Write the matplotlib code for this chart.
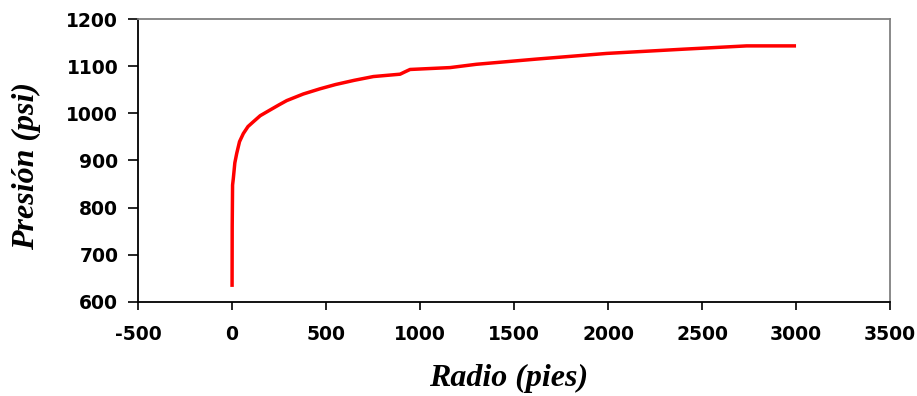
import matplotlib
matplotlib.use("Agg")
import matplotlib.pyplot as plt

# Pressure profile vs. radial distance from the wellbore
radio = [0.3, 1, 3, 7, 15, 25, 40, 60, 85, 113, 150, 202, 250, 291, 379,
         468, 550, 650, 752, 894, 920, 947, 1160, 1300, 1619, 1992, 2400,
         2737, 3000]
presion = [632, 760, 848, 862, 895, 915, 940, 957, 972, 982, 995, 1007,
           1018, 1027, 1041, 1052, 1061, 1070, 1078, 1083, 1088, 1093,
           1097, 1104, 1115, 1127, 1136, 1143, 1143]

x_ticks = [-500, 0, 500, 1000, 1500, 2000, 2500, 3000, 3500]
y_ticks = [600, 700, 800, 900, 1000, 1100, 1200]

fig = plt.figure(figsize=(9.17, 3.96), dpi=100)
ax = fig.add_axes([0.1505, 0.2374, 0.8201, 0.7146])

ax.plot(radio, presion, color="#ff0000", linewidth=2.5,
        solid_capstyle="butt", solid_joinstyle="round")

ax.set_xlim(-500, 3500)
ax.set_ylim(600, 1200)
ax.set_xticks(x_ticks)
ax.set_yticks(y_ticks)

ax.set_xticklabels([str(v) for v in x_ticks], family="DejaVu Sans",
                   weight="bold", size=13.5)
ax.set_yticklabels([str(v) for v in y_ticks], family="DejaVu Sans",
                   weight="bold", size=13.5)

ax.tick_params(axis="both", direction="out", width=1.2, color="black")
ax.tick_params(axis="x", length=5.8, pad=11)
ax.tick_params(axis="y", length=7.2, pad=7)

for side in ("left", "bottom"):
    ax.spines[side].set_color("black")
    ax.spines[side].set_linewidth(1.3)
for side in ("top", "right"):
    ax.spines[side].set_color("#808080")
    ax.spines[side].set_linewidth(1.3)

label_font = dict(family="Liberation Serif", weight="bold", style="italic",
                  size=23)
fig.text(508.5 / 917, 1 - 378 / 396, "Radio (pies)", ha="center",
         va="center", **label_font)
fig.text(26 / 917, 1 - 166 / 396, "Presión (psi)", ha="center",
         va="center", rotation=90, **label_font)

fig.savefig("out.png", dpi=100)
